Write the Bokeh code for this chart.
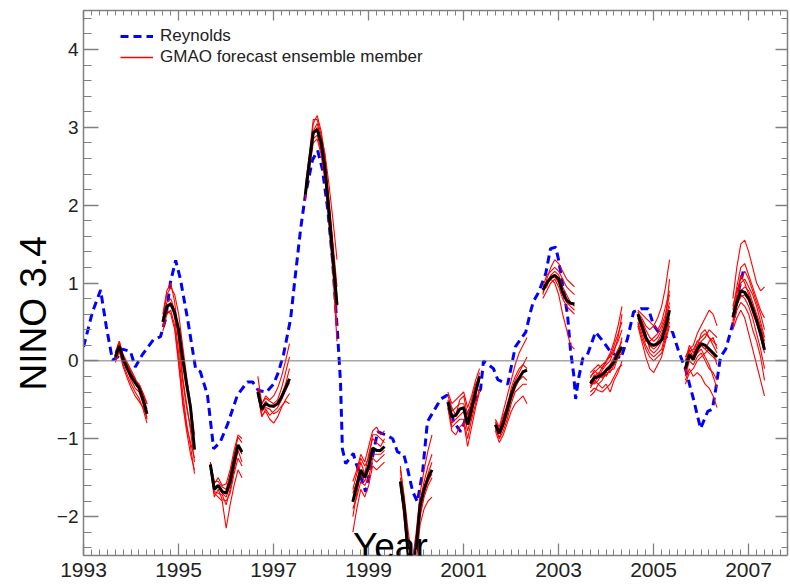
import numpy as np
from bokeh.plotting import figure
from bokeh.models import FixedTicker, LinearAxis, Range1d, Label, Legend, LegendItem, Span, Title
from bokeh.embed import file_html
from bokeh.resources import INLINE

FONT = "Liberation Sans"

# ---------------- data ----------------
# Reynolds observed NINO 3.4 anomaly
rey_t = [1993.00, 1993.19, 1993.36, 1993.48, 1993.61, 1993.72, 1993.82, 1993.99, 1994.09, 1994.24,
         1994.47, 1994.62, 1994.73, 1994.83, 1994.94, 1995.04, 1995.19, 1995.36, 1995.46, 1995.61,
         1995.74, 1995.88, 1996.03, 1996.24, 1996.45, 1996.56, 1996.68, 1996.85, 1997.00, 1997.10,
         1997.21, 1997.36, 1997.46, 1997.57, 1997.67, 1997.82, 1997.93, 1998.03, 1998.14, 1998.24,
         1998.35, 1998.41, 1998.45, 1998.52, 1998.68, 1998.73, 1998.94, 1999.19, 1999.36, 1999.51,
         1999.61, 1999.74, 1999.82, 1999.93, 2000.03, 2000.14, 2000.24, 2000.37, 2000.52, 2000.66,
         2000.79, 2000.94, 2001.08, 2001.36, 2001.42, 2001.63, 2001.72, 2001.93, 2002.09, 2002.31,
         2002.41, 2002.47, 2002.58, 2002.73, 2002.83, 2002.94, 2003.00, 2003.08, 2003.19, 2003.25,
         2003.32, 2003.36, 2003.42, 2003.51, 2003.61, 2003.78, 2003.95, 2004.09, 2004.31, 2004.45,
         2004.58, 2004.73, 2004.89, 2005.00, 2005.21, 2005.40, 2005.53, 2005.67, 2005.84, 2005.99,
         2006.14, 2006.24, 2006.31, 2006.41, 2006.52, 2006.68, 2006.80, 2006.90]
rey_v = [0.18, 0.63, 0.91, 0.44, 0.01, 0.05, 0.15, 0.12, -0.08, 0.08,
         0.27, 0.31, 0.54, 1.01, 1.29, 1.05, 0.54, -0.10, -0.14, -0.44,
         -1.13, -1.04, -0.82, -0.44, -0.27, -0.27, -0.38, -0.40, -0.30, -0.15,
         0.08, 0.54, 1.10, 1.69, 2.13, 2.58, 2.70, 2.46, 1.95, 1.31,
         0.33, -0.27, -1.13, -1.32, -1.19, -1.30, -1.68, -0.91, -0.95, -1.00,
         -1.17, -1.20, -1.38, -1.68, -1.81, -1.42, -0.78, -0.65, -0.49, -0.44,
         -0.78, -0.91, -0.69, -0.36, 0.00, -0.10, -0.24, -0.30, 0.18, 0.37,
         0.63, 0.76, 0.88, 1.12, 1.44, 1.46, 1.30, 1.00, 0.59, 0.15,
         -0.18, -0.49, -0.23, 0.03, 0.08, 0.37, 0.24, 0.12, 0.03, 0.28,
         0.63, 0.67, 0.67, 0.46, 0.28, 0.37, 0.12, -0.10, -0.49, -0.87,
         -0.65, -0.62, -0.36, 0.05, 0.15, 0.50, 0.92, 1.18]

# forecast start years (each forecast: 9 monthly values from start_year + 0.67)
seg_years = [1993, 1994, 1995, 1996, 1997, 1998, 1999, 2000, 2001, 2002, 2003, 2004, 2005, 2006]
lead_months = [0, 1, 2, 3, 4, 5, 6, 7, 8]

mean_1993 = [0.05, 0.19, 0.02, -0.10, -0.20, -0.28, -0.35, -0.50, -0.68]
ens_1993 = [[0.10, 0.25, 0.05, -0.05, -0.15, -0.25, -0.30, -0.42, -0.55],
            [0.02, 0.15, -0.05, -0.18, -0.30, -0.40, -0.48, -0.62, -0.80],
            [0.08, 0.22, 0.08, -0.02, -0.12, -0.22, -0.35, -0.50, -0.65],
            [-0.02, 0.12, -0.08, -0.22, -0.35, -0.45, -0.52, -0.60, -0.72],
            [0.12, 0.20, 0.00, -0.10, -0.18, -0.28, -0.32, -0.45, -0.62],
            [0.05, 0.18, 0.02, -0.12, -0.25, -0.35, -0.40, -0.55, -0.75]]

mean_1994 = [0.50, 0.70, 0.73, 0.62, 0.40, 0.03, -0.30, -0.60, -1.14]
ens_1994 = [[0.55, 0.85, 0.95, 0.85, 0.60, 0.20, -0.20, -0.55, -0.95],
            [0.45, 0.70, 0.75, 0.55, 0.10, -0.40, -0.80, -1.10, -1.45],
            [0.60, 0.90, 1.00, 0.75, 0.30, -0.20, -0.55, -0.90, -1.30],
            [0.38, 0.60, 0.65, 0.45, 0.00, -0.55, -0.90, -1.20, -1.40],
            [0.50, 0.75, 0.80, 0.65, 0.25, -0.25, -0.60, -0.85, -1.10],
            [0.45, 0.65, 0.60, 0.40, -0.05, -0.50, -0.85, -1.05, -1.25]]

mean_1995 = [-1.33, -1.65, -1.60, -1.68, -1.70, -1.55, -1.30, -1.08, -1.17]
ens_1995 = [[-1.30, -1.55, -1.55, -1.62, -1.65, -1.45, -1.20, -0.98, -1.05],
            [-1.35, -1.70, -1.75, -1.80, -2.15, -1.85, -1.60, -1.40, -1.50],
            [-1.32, -1.62, -1.60, -1.70, -1.75, -1.60, -1.35, -1.10, -1.20],
            [-1.38, -1.75, -1.65, -1.78, -1.80, -1.70, -1.45, -1.25, -1.35],
            [-1.30, -1.58, -1.50, -1.60, -1.58, -1.40, -1.15, -0.95, -1.00],
            [-1.35, -1.68, -1.70, -1.72, -1.85, -1.65, -1.40, -1.15, -1.30]]

mean_1996 = [-0.40, -0.62, -0.55, -0.58, -0.58, -0.55, -0.46, -0.35, -0.23]
ens_1996 = [[-0.35, -0.55, -0.45, -0.50, -0.45, -0.35, -0.20, 0.00, 0.22],
            [-0.45, -0.70, -0.65, -0.75, -0.80, -0.72, -0.60, -0.50, -0.42],
            [-0.20, -0.55, -0.48, -0.52, -0.55, -0.50, -0.35, -0.15, 0.05],
            [-0.42, -0.65, -0.60, -0.62, -0.68, -0.65, -0.58, -0.52, -0.55],
            [-0.38, -0.60, -0.52, -0.58, -0.60, -0.55, -0.45, -0.30, -0.10],
            [-0.40, -0.72, -0.62, -0.70, -0.65, -0.60, -0.50, -0.38, -0.28]]

mean_1997 = [2.14, 2.55, 2.93, 2.97, 2.80, 2.45, 1.90, 1.30, 0.72]
ens_1997 = [[2.10, 2.60, 3.05, 3.15, 2.95, 2.60, 2.05, 1.50, 0.95],
            [2.20, 2.50, 2.85, 2.90, 2.70, 2.35, 1.80, 1.15, 0.45],
            [2.05, 2.55, 2.95, 3.05, 2.85, 2.50, 2.00, 1.45, 0.80],
            [2.25, 2.65, 3.10, 3.10, 2.90, 2.65, 2.25, 1.80, 1.30],
            [2.15, 2.45, 2.80, 2.85, 2.65, 2.30, 1.75, 1.10, 0.25],
            [2.10, 2.55, 2.90, 3.00, 2.80, 2.45, 1.95, 1.35, 0.70]]

mean_1998 = [-1.81, -1.60, -1.40, -1.50, -1.35, -1.12, -1.15, -1.15, -1.10]
ens_1998 = [[-1.55, -1.40, -1.20, -1.30, -1.10, -0.90, -0.85, -0.95, -0.90],
            [-2.20, -1.90, -1.65, -1.75, -1.60, -1.35, -1.40, -1.35, -1.30],
            [-1.70, -1.55, -1.30, -1.45, -1.20, -1.00, -1.05, -1.10, -1.00],
            [-1.90, -1.75, -1.55, -1.60, -1.50, -1.25, -1.30, -1.25, -1.20],
            [-1.65, -1.45, -1.25, -1.35, -1.25, -0.95, -0.95, -1.00, -1.05],
            [-2.00, -1.70, -1.45, -1.55, -1.40, -1.20, -1.20, -1.20, -1.15]]

mean_1999 = [-1.55, -1.90, -2.50, -2.80, -2.40, -1.85, -1.65, -1.50, -1.40]
ens_1999 = [[-1.50, -1.85, -2.30, -2.60, -2.20, -1.70, -1.40, -1.15, -0.95],
            [-1.60, -2.00, -2.60, -2.90, -2.60, -2.10, -1.90, -1.80, -1.75],
            [-1.40, -1.75, -2.20, -2.55, -2.30, -1.90, -1.65, -1.45, -1.30],
            [-1.55, -1.95, -2.45, -2.75, -2.50, -2.00, -1.75, -1.60, -1.50],
            [-1.35, -1.80, -2.35, -2.70, -2.35, -1.80, -1.55, -1.35, -1.20],
            [-1.60, -2.05, -2.55, -2.85, -2.45, -1.95, -1.70, -1.55, -1.45]]

mean_2000 = [-0.53, -0.72, -0.70, -0.62, -0.60, -0.82, -0.62, -0.40, -0.20]
ens_2000 = [[-0.40, -0.55, -0.50, -0.45, -0.40, -0.60, -0.45, -0.25, -0.10],
            [-0.60, -0.90, -0.95, -0.85, -0.80, -1.10, -0.85, -0.60, -0.40],
            [-0.50, -0.65, -0.60, -0.55, -0.55, -0.75, -0.55, -0.35, -0.15],
            [-0.55, -0.85, -0.80, -0.75, -0.75, -1.00, -0.75, -0.55, -0.35],
            [-0.45, -0.60, -0.70, -0.50, -0.45, -0.70, -0.50, -0.30, -0.20],
            [-0.60, -0.80, -0.75, -0.70, -0.65, -0.90, -0.70, -0.45, -0.25]]

mean_2001 = [-0.82, -0.93, -0.80, -0.62, -0.44, -0.30, -0.22, -0.14, -0.12]
ens_2001 = [[-0.75, -0.85, -0.65, -0.45, -0.25, -0.05, 0.10, 0.20, 0.30],
            [-0.90, -1.05, -0.95, -0.80, -0.65, -0.55, -0.50, -0.45, -0.55],
            [-0.80, -0.90, -0.75, -0.55, -0.40, -0.25, -0.15, -0.05, 0.05],
            [-0.85, -1.00, -0.90, -0.75, -0.55, -0.40, -0.35, -0.30, -0.30],
            [-0.78, -0.88, -0.70, -0.60, -0.35, -0.20, -0.10, -0.05, -0.10],
            [-0.88, -0.98, -0.85, -0.70, -0.50, -0.35, -0.25, -0.20, -0.25]]

mean_2002 = [0.91, 1.00, 1.07, 1.10, 1.05, 0.88, 0.78, 0.74, 0.73]
ens_2002 = [[0.85, 1.05, 1.20, 1.30, 1.25, 1.15, 1.05, 1.00, 0.95],
            [0.95, 1.00, 1.05, 1.00, 0.85, 0.60, 0.40, 0.20, 0.15],
            [0.90, 0.95, 1.10, 1.15, 1.10, 0.95, 0.85, 0.75, 0.70],
            [0.80, 0.90, 1.00, 1.05, 0.95, 0.80, 0.70, 0.65, 0.60],
            [0.95, 1.10, 1.15, 1.20, 1.15, 1.05, 0.95, 0.90, 0.85],
            [0.88, 1.00, 1.05, 1.08, 1.00, 0.85, 0.75, 0.70, 0.65]]

mean_2003 = [-0.29, -0.22, -0.20, -0.18, -0.12, -0.08, -0.01, 0.10, 0.18]
ens_2003 = [[-0.20, -0.15, -0.10, -0.05, 0.00, 0.05, 0.20, 0.35, 0.50],
            [-0.40, -0.35, -0.38, -0.40, -0.35, -0.30, -0.20, -0.10, -0.05],
            [-0.30, -0.20, -0.15, -0.20, -0.10, -0.05, 0.05, 0.15, 0.25],
            [-0.25, -0.30, -0.25, -0.15, -0.20, -0.10, 0.00, 0.10, 0.30],
            [-0.35, -0.25, -0.30, -0.25, -0.15, -0.15, -0.05, 0.05, 0.10],
            [-0.15, -0.10, -0.05, -0.10, 0.00, 0.10, 0.25, 0.45, 0.70],
            [-0.45, -0.40, -0.30, -0.35, -0.30, -0.40, -0.25, -0.15, 0.00],
            [-0.28, -0.18, -0.22, -0.12, -0.05, 0.00, 0.15, 0.25, 0.40],
            [-0.32, -0.28, -0.20, -0.22, -0.18, -0.12, -0.10, 0.05, 0.15],
            [-0.22, -0.12, -0.18, -0.08, -0.02, 0.08, 0.12, 0.30, 0.60]]

mean_2004 = [0.60, 0.45, 0.30, 0.22, 0.20, 0.22, 0.27, 0.43, 0.65]
ens_2004 = [[0.62, 0.55, 0.45, 0.40, 0.45, 0.55, 0.70, 0.95, 1.30],
            [0.45, 0.25, 0.05, -0.10, -0.15, -0.05, 0.05, 0.25, 0.45],
            [0.58, 0.45, 0.30, 0.20, 0.15, 0.20, 0.30, 0.45, 0.65],
            [0.65, 0.60, 0.55, 0.50, 0.45, 0.40, 0.50, 0.70, 0.90],
            [0.50, 0.35, 0.20, 0.10, 0.05, 0.10, 0.15, 0.35, 0.55],
            [0.55, 0.40, 0.25, 0.25, 0.30, 0.35, 0.45, 0.60, 0.85],
            [0.60, 0.50, 0.35, 0.15, 0.10, 0.15, 0.25, 0.55, 1.05],
            [0.48, 0.30, 0.15, 0.05, 0.00, 0.05, 0.10, 0.30, 0.50],
            [0.63, 0.52, 0.40, 0.30, 0.25, 0.30, 0.40, 0.55, 0.75],
            [0.55, 0.42, 0.28, 0.18, 0.20, 0.25, 0.35, 0.50, 0.70]]

mean_2005 = [-0.10, 0.08, 0.02, 0.15, 0.22, 0.20, 0.15, 0.10, 0.05]
ens_2005 = [[-0.05, 0.15, 0.20, 0.35, 0.45, 0.55, 0.65, 0.60, 0.45],
            [-0.25, -0.10, -0.20, -0.15, -0.20, -0.30, -0.35, -0.45, -0.60],
            [-0.10, 0.05, 0.00, 0.10, 0.20, 0.15, 0.10, 0.05, 0.00],
            [0.00, 0.20, 0.10, 0.25, 0.30, 0.35, 0.30, 0.25, 0.20],
            [-0.20, 0.00, -0.05, 0.05, 0.10, 0.00, -0.10, -0.15, -0.25],
            [-0.15, 0.10, 0.05, 0.20, 0.25, 0.30, 0.40, 0.35, 0.30],
            [0.05, 0.15, 0.05, 0.10, 0.15, 0.05, -0.05, -0.20, -0.35],
            [-0.12, 0.02, 0.08, 0.18, 0.35, 0.40, 0.30, 0.20, 0.10],
            [-0.30, -0.15, -0.10, 0.00, 0.05, 0.10, 0.15, 0.10, -0.05],
            [-0.08, 0.12, 0.15, 0.25, 0.20, 0.15, 0.25, 0.30, 0.15]]

mean_2006 = [0.56, 0.75, 0.90, 0.88, 0.80, 0.67, 0.52, 0.35, 0.14]
ens_2006 = [[0.80, 1.20, 1.50, 1.55, 1.40, 1.20, 1.00, 0.90, 0.95],
            [0.40, 0.55, 0.65, 0.55, 0.35, 0.15, -0.05, -0.25, -0.45],
            [0.55, 0.80, 1.00, 1.05, 0.95, 0.85, 0.70, 0.50, 0.30],
            [0.60, 0.75, 0.85, 0.80, 0.70, 0.55, 0.35, 0.15, -0.10],
            [0.50, 0.70, 0.90, 0.95, 0.90, 0.75, 0.60, 0.45, 0.25],
            [0.65, 0.95, 1.20, 1.25, 1.10, 0.95, 0.80, 0.65, 0.55],
            [0.45, 0.65, 0.75, 0.70, 0.60, 0.40, 0.25, 0.05, -0.25],
            [0.70, 0.90, 1.05, 1.15, 1.05, 0.90, 0.75, 0.60, 0.40],
            [0.52, 0.72, 0.82, 0.85, 0.78, 0.62, 0.48, 0.30, 0.10],
            [0.60, 0.85, 1.10, 1.00, 0.85, 0.70, 0.55, 0.40, 0.20]]

means = [mean_1993, mean_1994, mean_1995, mean_1996, mean_1997, mean_1998, mean_1999,
         mean_2000, mean_2001, mean_2002, mean_2003, mean_2004, mean_2005, mean_2006]
members = [ens_1993, ens_1994, ens_1995, ens_1996, ens_1997, ens_1998, ens_1999,
           ens_2000, ens_2001, ens_2002, ens_2003, ens_2004, ens_2005, ens_2006]

x_ticks = [1993, 1995, 1997, 1999, 2001, 2003, 2005, 2007]
y_ticks = [-2, -1, 0, 1, 2, 3, 4]

# ---------------- build line sets ----------------
red_xs, red_ys, blk_xs, blk_ys = [], [], [], []
for yr, mn, ens in zip(seg_years, means, members):
    t = [yr + 0.67 + m / 12.0 for m in lead_months]
    for mem in ens:
        red_xs.append(t)
        red_ys.append(mem)
    blk_xs.append(t)
    blk_ys.append(mn)

# ---------------- figure ----------------
p = figure(frame_width=704, frame_height=545, output_backend="svg", toolbar_location=None,
           x_range=Range1d(1993, 2007.82), y_range=Range1d(-2.5, 4.5),
           min_border_left=83, min_border_right=3, min_border_top=10, min_border_bottom=32)
p.xgrid.visible = False
p.ygrid.visible = False
p.outline_line_color = None
p.background_fill_color = "white"
p.border_fill_color = "white"

xticker = FixedTicker(ticks=x_ticks, minor_ticks=[float(v) for v in np.arange(1993, 2007.85, 1 / 6.0)])
yticker = FixedTicker(ticks=y_ticks, minor_ticks=[round(float(v), 1) for v in np.arange(-2.4, 4.45, 0.2)])

AX = "#808080"


def style(ax, tin, mtin):
    ax.axis_line_color = AX
    ax.axis_line_width = 1.5
    ax.major_tick_line_color = AX
    ax.minor_tick_line_color = AX
    ax.major_tick_line_width = 1.3
    ax.minor_tick_line_width = 1.0
    ax.major_tick_in = tin
    ax.major_tick_out = 0
    ax.minor_tick_in = mtin
    ax.minor_tick_out = 0


xa = p.xaxis[0]
xa.ticker = xticker
style(xa, 12, 6)
xa.major_label_text_font = FONT
xa.major_label_text_font_size = "21px"
xa.major_label_text_color = "#222222"
xa.major_label_standoff = 7

ya = p.yaxis[0]
ya.ticker = yticker
style(ya, 15, 8)
ya.major_label_text_font = FONT
ya.major_label_text_font_size = "19px"
ya.major_label_text_color = "#222222"
ya.major_label_standoff = 5

top = LinearAxis(ticker=xticker, major_label_text_font_size="1px", major_label_text_color=None,
                 major_label_standoff=0)
style(top, 10, 5)
p.add_layout(top, "above")
right = LinearAxis(ticker=yticker, major_label_text_font_size="1px", major_label_text_color=None,
                   major_label_standoff=0)
style(right, 12, 6)
p.add_layout(right, "right")

p.add_layout(Span(location=0, dimension="width", line_color="#7a7a7a", line_width=1))

r_blue = p.line(rey_t, rey_v, line_color="#0000ff", line_width=3, line_dash="8 5")
p.multi_line(red_xs, red_ys, line_color="#ff0000", line_width=1.1)
r_red_key = p.line(red_xs[0], red_ys[0], line_color="#ff0000", line_width=1.3, line_dash="60 1")
p.multi_line(blk_xs, blk_ys, line_color="#000000", line_width=3)

legend = Legend(items=[LegendItem(label="Reynolds", renderers=[r_blue]),
                       LegendItem(label="GMAO forecast ensemble member", renderers=[r_red_key])],
                location=(37, 488), padding=0, margin=0, spacing=1,
                glyph_width=33, glyph_height=20, label_height=20, label_standoff=7,
                label_text_font=FONT, label_text_font_size="17px", label_text_color="#222222",
                border_line_color=None, background_fill_alpha=0)
p.add_layout(legend)

p.add_layout(Title(text="NINO 3.4", align="left", offset=165, text_font=FONT, text_font_size="37px",
                   text_font_style="normal", text_color="#000000", standoff=0), "left")
p.add_layout(Label(x=1999.46, y=-2.38, text="Year", text_align="center", text_baseline="alphabetic",
                   text_font=FONT, text_font_size="37px", text_color="#000000"))

open("out.html", "w").write(file_html(p, INLINE))
